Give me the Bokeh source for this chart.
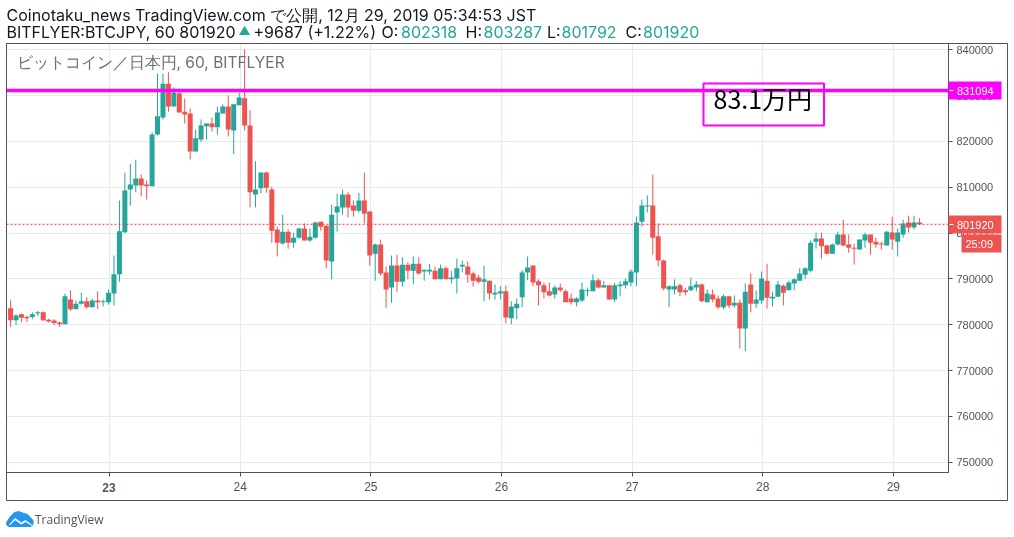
from bokeh.plotting import figure
from bokeh.models import (ColumnDataSource, Range1d, FixedTicker, Label, Span,
                          BoxAnnotation, PolyAnnotation)
from bokeh.embed import file_html
from bokeh.resources import INLINE

# hourly candles, oldest first
opens = [783600,781000,782300,781700,781700,782500,782700,781100,780900,780500,780100,785500,783400,784600,785100,783800,785300,784900,784900,786800,
791000,800200,809500,810400,811900,810600,810200,821500,825200,832600,827600,830500,826500,826100,817800,820400,823300,823900,823100,826100,
827600,822400,827900,829400,823500,808400,809800,813200,809500,800800,797700,800300,797900,799000,801000,798400,799000,802500,801600,793800,
804500,805600,808400,806000,804900,807100,804700,795500,797500,791400,788100,792900,789400,793100,791800,793300,791600,791600,791800,789900,
792300,789900,790100,792700,792700,791200,790300,789400,789600,786600,786800,787300,781400,783600,786000,791400,792900,789500,788600,787300,
786600,788100,787300,785700,784900,785300,787300,787300,789700,788100,788600,785500,788400,788600,789200,791400,802500,805800,806000,799300,
794000,787700,787700,788600,787500,787500,788100,788800,784900,786600,785700,783800,786200,784200,784800,779200,788800,784600,785300,789600,
785700,786100,788500,787500,789000,789600,790900,791800,798100,798800,797300,795500,797500,799700,797500,796800,796400,798400,799700,798100,
797700,797300,800100,798100,799700,802300,801200,802318]
highs = [785300,782300,782400,782000,782700,783000,782900,781300,781200,780700,786800,787500,785300,787000,786000,785700,787300,785500,787700,795100,
807100,813200,815100,816000,812800,811500,822000,834800,834800,835100,831800,831500,829400,827200,822600,824800,823900,825200,827600,828100,
830000,828200,830700,840100,826800,815700,813200,813400,810100,801400,804000,800800,800100,801200,802100,801000,802500,802500,801800,806200,
808600,809500,809000,807100,808800,813200,804700,797700,798600,792700,795100,795300,794700,793600,794900,794700,792000,793300,792700,793100,
792700,791800,794400,794000,793800,791600,790900,792900,789600,788800,788400,788600,785100,785700,791900,794900,792900,789900,789200,789200,
788600,789000,787700,786800,786000,789200,788100,791000,790100,789500,788600,789200,789500,790100,792100,803600,807300,808200,812800,802100,
794200,788600,789900,789000,788100,790300,789500,789000,787700,787700,786400,786600,786200,786400,785500,789000,791200,787500,791600,793300,
787200,789600,788800,789600,790100,792300,792500,798400,800100,800100,797500,797700,800300,802900,799700,797700,798600,800100,799700,799000,
798100,800500,803600,801000,802900,803800,803800,803287]
lows = [779500,779900,780600,780600,781200,781900,780800,780500,779900,779500,780100,783000,783400,784400,783500,783800,783400,784000,784400,784200,
789400,800000,806000,808900,808000,807300,810200,821300,824800,826500,827600,826300,823900,816100,817800,819900,820400,822200,821500,826100,
821100,817200,827900,822400,805600,805600,808700,808800,797900,794900,797500,796600,796800,798800,798400,798100,798800,800500,792300,789900,
800300,804000,803400,803600,804500,802100,792900,789600,790700,783700,784800,787200,788300,789900,788800,790900,789600,790900,789900,789900,
789900,789000,786800,791400,789200,788300,789000,785100,785500,785500,785500,780300,780100,781200,783800,789700,788400,784200,785700,786200,
785700,787100,784900,784400,784000,784900,786200,787300,787900,788100,785500,784900,786200,787900,788400,788400,801400,804500,795300,792700,
787500,783800,786600,786200,786400,787300,787300,784900,784900,784900,783400,783400,783600,783700,774800,774200,782700,783700,784600,783500,
784000,786100,784200,787500,787500,789600,789900,791400,796600,794400,795300,795500,797300,797100,795700,793100,796400,796800,795300,796800,
796400,797300,796400,794900,799000,800100,800800,801792]
closes = [781000,782000,781500,781400,782300,782700,781000,780700,780400,780100,786200,783400,784600,785100,783800,785300,784900,785100,787000,791000,
800400,809300,810600,811900,810400,810200,821500,825500,832600,827600,830700,826300,825900,817800,820700,823500,823900,823100,826300,827600,
822600,828100,829600,823500,808900,809500,813200,809900,800500,797900,800300,797900,799000,801000,798400,799200,802300,801400,794000,804000,
805800,808400,805600,804900,807100,804200,795100,797500,791200,787700,792900,789400,793100,791800,793300,791200,792000,792000,789900,792300,
789900,790300,792300,793100,790900,789600,789400,789900,786800,787000,787300,781600,784000,784600,791400,792500,789200,788600,787100,786400,
788100,787500,784900,784900,785700,787700,787500,789700,788100,788600,785500,788600,788800,789500,791600,802300,806000,806000,799000,794000,
787900,788400,788400,787100,787100,788400,788800,785100,786800,785500,783800,786200,784200,784800,779200,787200,784600,785500,790100,785900,
786100,788800,787000,789200,789900,791200,792300,797900,798800,797100,795500,797500,799700,797300,796800,796600,798600,799700,797900,797500,
797500,800300,798600,800100,802100,801200,802300,801920]

y_ticks = [750000,760000,770000,780000,790000,800000,810000,820000,830000,840000]
day_positions = [18.2,42.2,66.2,90.2,114.2,138.2,162.2]
day_labels = ["23","24","25","26","27","28","29"]
last_price = 801920
level_price = 831094
UP, DOWN = "#26a69a", "#ef5350"
INK, GRID = "#50535e", "#e1ecf2"

x = list(range(len(closes)))
up = [c >= o for o, c in zip(opens, closes)]
src = ColumnDataSource(dict(x=x, o=opens, h=highs, l=lows, c=closes,
                            top=[max(a, b) for a, b in zip(opens, closes)],
                            bottom=[min(a, b) for a, b in zip(opens, closes)],
                            color=[UP if u else DOWN for u in up]))

p = figure(width=1014, height=537, output_backend="svg", toolbar_location=None,
           x_range=Range1d(-0.75, 172.34), y_range=Range1d(747748, 841375),
           y_axis_location="right", min_border_left=6, min_border_right=66,
           min_border_top=43, min_border_bottom=65, background_fill_color="white",
           border_fill_color="white", outline_line_color=INK, outline_line_width=1)
p.styles = {"position": "fixed", "left": "0px", "top": "0px"}

p.yaxis.ticker = FixedTicker(ticks=y_ticks)
p.xaxis.ticker = FixedTicker(ticks=day_positions)
overrides = dict(zip(day_positions, day_labels))
overrides[18.2] = ""
p.xaxis.major_label_overrides = overrides
for ax in (p.xaxis[0], p.yaxis[0]):
    ax.axis_line_color = INK
    ax.major_tick_line_color = INK
    ax.major_tick_in = 0
    ax.major_tick_out = 4
    ax.minor_tick_line_color = None
    ax.major_label_text_color = INK
    ax.major_label_text_font = "Liberation Sans"
    ax.major_label_text_font_size = "11px"
p.yaxis.formatter.use_scientific = False
p.yaxis.major_label_standoff = 4
p.xaxis.major_label_standoff = 5
p.xaxis.major_label_text_font_size = "12px"
p.xgrid.ticker = FixedTicker(ticks=day_positions)
p.ygrid.ticker = FixedTicker(ticks=y_ticks)
p.xgrid.grid_line_color = GRID
p.ygrid.grid_line_color = GRID

p.segment("x", "h", "x", "l", source=src, color="color", line_width=1)
p.vbar("x", 0.92, "top", "bottom", source=src, fill_color="color", line_color=None)

p.add_layout(Span(location=last_price, dimension="width", line_color="#f23645",
                  line_width=1, line_dash="2 2"))
p.add_layout(Span(location=level_price, dimension="width", line_color="#ff00ff",
                  line_width=3.5))

# transparent full-page sheet for the header, flags, note and footer
q = figure(width=1014, height=537, output_backend="svg", toolbar_location=None,
           x_range=Range1d(0, 1014), y_range=Range1d(537, 0),
           x_axis_type=None, y_axis_type=None, min_border=0,
           background_fill_color=None, border_fill_color=None, outline_line_color=None)
q.grid.visible = False
q.styles = {"position": "fixed", "left": "0px", "top": "0px", "pointer-events": "none"}


def box(l, t, r, b, fill=None, line=None, lw=1):
    q.add_layout(BoxAnnotation(left=l, right=r, top=t, bottom=b,
                               fill_color=fill, fill_alpha=1 if fill else 0,
                               line_color=line, line_alpha=1 if line else 0,
                               line_width=lw))


def text(s, x0, y0, size, color="#131722", font="Inter", style="normal", align="left"):
    q.add_layout(Label(x=x0, y=y0, text=s,
                       text_font=font, text_font_size=f"{size}px", text_color=color,
                       text_font_style=style, text_align=align, text_baseline="middle"))


# outer frame
box(6, 43, 1007, 500, line=INK)

# annotation box
box(703, 83, 823.5, 125, line="#ff00ff", lw=2)
text("83.1万円", 713, 97, 25, color="#000000", font="Noto Sans CJK JP")

# price flags
box(948, 81, 1001, 99, fill="#ff00ff")
box(948, 215, 1001, 233, fill=DOWN)
box(961, 234, 1001, 252, fill=DOWN)
box(949, 89.6, 953, 90.6, fill="#ffffff")
box(949, 223.6, 953, 224.6, fill="#ffffff")
text("831094", 956.5, 90, 11, "#ffffff", "Liberation Sans")
text("801920", 956.5, 224, 11, "#ffffff", "Liberation Sans")
text("25:09", 965, 243, 11, "#ffffff", "Liberation Sans")

# bold first day label
text("23", 108.5, 486.5, 12, INK, "Liberation Sans", "bold", "center")

# header
text("Coinotaku_news TradingView.com で公開, 12月 29, 2019 05:34:53 JST", 6, 14.5, 16)
text("BITFLYER:BTCJPY, 60 801920", 6, 31.5, 16)
text("▲", 238, 29.5, 12, UP)
for s, xs, col in [("+9687 (+1.22%)", 253, "#131722"), ("O:", 381, "#131722"), ("802318", 400.5, UP),
                   ("H:", 465, "#131722"), ("803287", 483, UP), ("L:", 546.5, "#131722"),
                   ("801792", 561, UP), ("C:", 625, "#131722"), ("801920", 642.5, UP)]:
    text(s, xs, 31.5, 16, col)
text("ビットコイン／日本円, 60, BITFLYER", 16, 61.5, 15.5, "#6e7079")

# footer logo
q.add_layout(PolyAnnotation(
    xs=[6, 10, 14, 18, 22, 27, 29, 32.5, 32.5, 30, 8, 6],
    ys=[522, 516, 512, 511, 512.5, 514, 516, 520, 524, 526, 526, 524],
    fill_color="#2196f3", fill_alpha=1, line_color="#2196f3", line_alpha=1))
q.add_layout(PolyAnnotation(
    xs=[9, 14.5, 21, 25, 31, 25, 21, 14.5], ys=[524.5, 518, 522.5, 520, 524.5, 521, 523.6, 519.2],
    fill_color="#ffffff", fill_alpha=1, line_color="#ffffff", line_alpha=1))
text("TradingView", 34.5, 519, 12, INK, "Open Sans")

open("out.html", "w").write(file_html([p, q], INLINE))
